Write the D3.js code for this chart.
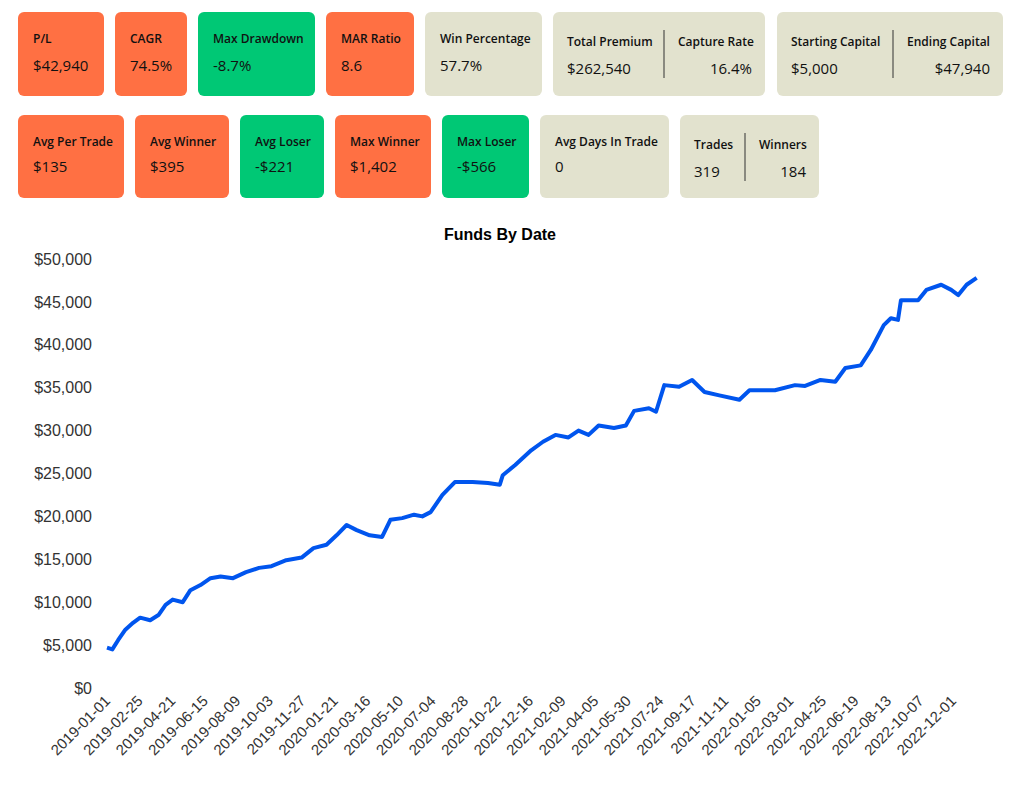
<!DOCTYPE html>
<html><head><meta charset="utf-8">
<script src="https://cdn.jsdelivr.net/npm/d3@7"></script>
<style>body{margin:0;background:#fff}</style></head>
<body><svg id="c" width="1024" height="801"></svg>
<script>
const cardLabels1=["P/L","CAGR","Max Drawdown","MAR Ratio","Win Percentage"];
const cardValues1=["$42,940","74.5%","-8.7%","8.6","57.7%"];
const cardKinds1=["o","o","g","o","b"];
const cardLabels2=["Avg Per Trade","Avg Winner","Avg Loser","Max Winner","Max Loser","Avg Days In Trade"];
const cardValues2=["$135","$395","-$221","$1,402","-$566","0"];
const cardKinds2=["o","o","g","o","g","b"];
const pairLabels=[["Total Premium","Capture Rate"],["Starting Capital","Ending Capital"],["Trades","Winners"]];
const pairValues=[["$262,540","16.4%"],["$5,000","$47,940"],["319","184"]];
const dates=["2019-01-01","2019-01-10","2019-01-20","2019-02-01","2019-02-14","2019-02-26","2019-03-15","2019-03-29","2019-04-10","2019-04-22","2019-05-09","2019-05-22","2019-06-08","2019-06-25","2019-07-12","2019-08-02","2019-08-24","2019-09-15","2019-10-06","2019-10-31","2019-11-26","2019-12-16","2020-01-07","2020-01-24","2020-02-10","2020-02-27","2020-03-20","2020-04-10","2020-04-24","2020-05-14","2020-06-03","2020-06-17","2020-07-01","2020-07-21","2020-08-11","2020-09-10","2020-10-06","2020-10-26","2020-10-31","2020-11-21","2020-12-18","2021-01-07","2021-01-28","2021-02-19","2021-03-08","2021-03-25","2021-04-11","2021-05-07","2021-05-27","2021-06-10","2021-07-05","2021-07-17","2021-07-31","2021-08-25","2021-09-16","2021-10-07","2021-11-01","2021-12-05","2021-12-22","2022-02-03","2022-03-09","2022-03-26","2022-04-21","2022-05-16","2022-06-02","2022-06-28","2022-07-15","2022-08-06","2022-08-18","2022-08-30","2022-09-04","2022-10-03","2022-10-17","2022-11-11","2022-11-28","2022-12-10","2022-12-24","2023-01-10"];
const funds=[4700,4500,5600,6800,7600,8200,7900,8500,9700,10300,10000,11400,12000,12800,13000,12800,13500,14000,14200,14900,15200,16300,16700,17800,19000,18400,17800,17600,19600,19800,20200,20000,20500,22500,24000,24000,23900,23700,24800,26000,27700,28700,29500,29200,30000,29500,30600,30300,30600,32300,32600,32200,35300,35100,35900,34500,34100,33600,34700,34700,35300,35200,35900,35700,37300,37600,39400,42300,43100,42900,45200,45200,46400,47000,46400,45800,47000,47800];
const xTickLabels=["2019-01-01","2019-02-25","2019-04-21","2019-06-15","2019-08-09","2019-10-03","2019-11-27","2020-01-21","2020-03-16","2020-05-10","2020-07-04","2020-08-28","2020-10-22","2020-12-16","2021-02-09","2021-04-05","2021-05-30","2021-07-24","2021-09-17","2021-11-11","2022-01-05","2022-03-01","2022-04-25","2022-06-19","2022-08-13","2022-10-07","2022-12-01"];
const yTicks=[0,5000,10000,15000,20000,25000,30000,35000,40000,45000,50000];

const col={o:"#FF7043",g:"#00C875",b:"#E2E2CE"};
const svg=d3.select("#c");
const font="'Open Sans','Noto Sans',sans-serif";
function card(x,y,w,h,k){svg.append("rect").attr("x",x).attr("y",y).attr("width",w).attr("height",h).attr("rx",6).attr("fill",col[k]);}
function txt(x,y,t,s,wt,anchor){svg.append("text").attr("x",x).attr("y",y).text(t).attr("font-family",font).attr("font-size",s).attr("font-weight",wt).attr("fill","#111").attr("text-anchor",anchor||"start");}
const r1=[[18,86],[115,72],[198,117],[326,88],[425,117]];
r1.forEach((b,i)=>{card(b[0],12,b[1],84,cardKinds1[i]);txt(b[0]+15,43,cardLabels1[i],12,600);txt(b[0]+15,71,cardValues1[i],15,500);});
const r2=[[18,106],[135,94],[240,84],[335,96],[442,87],[540,129]];
r2.forEach((b,i)=>{card(b[0],115,b[1],83,cardKinds2[i]);txt(b[0]+15,146,cardLabels2[i],12,600);txt(b[0]+15,172,cardValues2[i],15,500);});
const pr=[[553,12,212,84,664],[777,12,226,84,893],[680,115,139,83,745]];
pr.forEach((b,i)=>{card(b[0],b[1],b[2],b[3],"b");
 svg.append("line").attr("x1",b[4]).attr("x2",b[4]).attr("y1",b[1]+18).attr("y2",b[1]+66).attr("stroke","#333");
 const ly=b[1]+34, vy=b[1]+62;
 txt(b[0]+14,ly,pairLabels[i][0],12,600);txt(b[0]+14,vy,pairValues[i][0],15,500);
 txt(b[4]+14,ly,pairLabels[i][1],12,600);txt(b[0]+b[2]-13,vy,pairValues[i][1],15,500,"end");});

svg.append("text").attr("x",500).attr("y",240).attr("text-anchor","middle").attr("font-family","Arial,'Liberation Sans'").attr("font-weight","bold").attr("font-size",16).text("Funds By Date");
const p=d3.timeParse("%Y-%m-%d");
const x=d3.scaleTime().domain([p("2019-01-01"),p("2022-12-01")]).range([107,953]);
const y=d3.scaleLinear().domain([0,50000]).range([688,259]);
const ya=svg.append("g").attr("transform","translate(98,0)").call(d3.axisLeft(y).tickValues(yTicks).tickSize(0).tickPadding(6).tickFormat(d=>"$"+d3.format(",")(d)));
ya.select(".domain").remove();
ya.selectAll("text").attr("font-family","Arial,'Liberation Sans'").attr("font-size",16).attr("fill","#333");
const xa=svg.append("g").attr("transform","translate(0,694)").call(d3.axisBottom(x).tickValues(xTickLabels.map(p)).tickSize(0).tickFormat(d3.timeFormat("%Y-%m-%d")));
xa.select(".domain").remove();
xa.selectAll("text").attr("font-family","Arial,'Liberation Sans'").attr("font-size",15).attr("fill","#333").attr("text-anchor","end").attr("dy","0.35em").attr("transform","rotate(-45)").attr("dx","-0.2em");
svg.append("path").datum(dates.map((d,i)=>[p(d),funds[i]])).attr("fill","none").attr("stroke","#0055EE").attr("stroke-width",4).attr("stroke-linejoin","round")
 .attr("d",d3.line().x(d=>x(d[0])).y(d=>y(d[1])));
</script></body></html>
